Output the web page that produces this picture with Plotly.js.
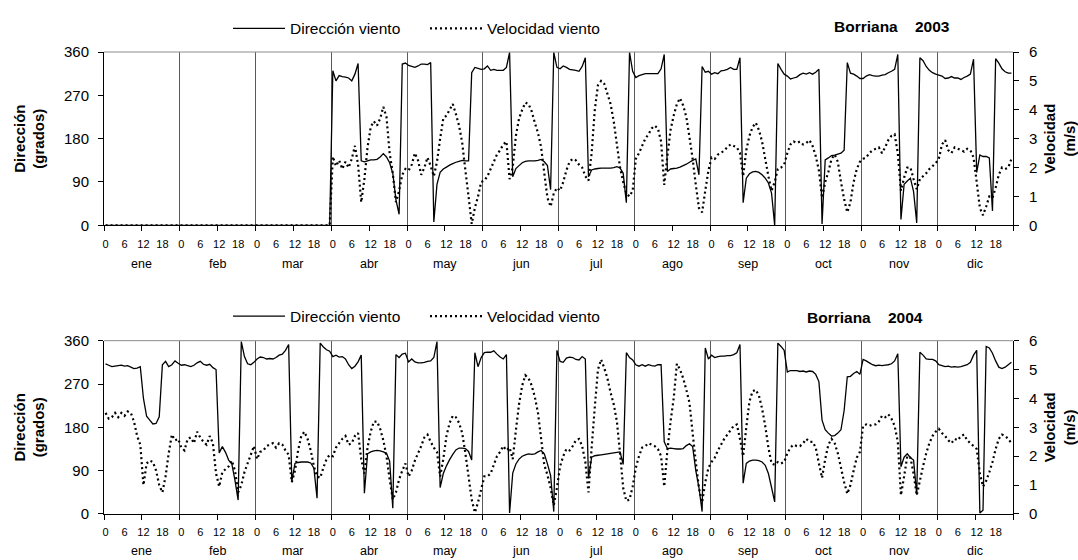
<!DOCTYPE html>
<html>
<head>
<meta charset="utf-8">
<script src="https://cdn.plot.ly/plotly-3.0.1.min.js"></script>
<style>html,body{margin:0;padding:0;background:#fff;}#chart{width:1078px;height:560px;}</style>
</head>
<body>
<div id="chart"></div>
<script>
// ---------- categories / labels ----------
const months = ['ene','feb','mar','abr','may','jun','jul','ago','sep','oct','nov','dic'];
const hourLabels = ['0','6','12','18'];
const seriesNames = ['Dirección viento','Velocidad viento'];
const titles = ['Borriana\u00a0\u00a0\u00a0\u00a02003','Borriana\u00a0\u00a0\u00a0\u00a02004'];

// ---------- 2003: direction (degrees), 24 hourly values per month ----------
const dir2003 = [
 [0,0,0,0,0,0,0,0,0,0,0,0,0,0,0,0,0,0,0,0,0,0,0,0],
 [0,0,0,0,0,0,0,0,0,0,0,0,0,0,0,0,0,0,0,0,0,0,0,0],
 [0,0,0,0,0,0,0,0,0,0,0,0,0,0,0,0,0,0,0,0,0,0,0,0],
 [321,300,311,309,308,306,300,314,336,134,132,134,136,136,137,142,149,142,130,108,53,23,335,337],
 [332,330,328,331,335,335,334,338,7,85,110,117,121,125,128,131,133,135,134,134,317,328,326,324],
 [325,331,322,324,322,322,322,328,359,101,118,124,130,133,134,134,134,135,137,132,124,74,359,328],
 [325,331,328,324,323,322,320,330,348,101,115,117,118,119,119,119,119,120,122,119,108,47,359,320],
 [307,311,313,315,315,315,315,315,325,355,112,117,118,119,121,124,127,131,135,138,105,330,318,320],
 [314,317,315,321,322,324,328,324,324,348,47,98,107,111,112,110,105,98,88,67,0,336,324,314],
 [310,304,306,308,313,316,314,317,314,318,324,3,136,140,145,146,148,150,156,338,316,314,310,305],
 [305,310,313,311,310,310,312,313,317,320,324,355,12,85,92,98,70,5,348,342,330,322,317,314],
 [312,310,305,306,309,306,306,303,307,310,314,345,110,146,143,143,140,30,346,337,325,319,316,316]
];
// ---------- 2003: speed (m/s) ----------
const vel2003 = [
 [0,0,0,0,0,0,0,0,0,0,0,0,0,0,0,0,0,0,0,0,0,0,0,0],
 [0,0,0,0,0,0,0,0,0,0,0,0,0,0,0,0,0,0,0,0,0,0,0,0],
 [0,0,0,0,0,0,0,0,0,0,0,0,0,0,0,0,0,0,0,0,0,0,0,0],
 [2.38,2.05,2.25,1.95,2.2,2.0,2.3,2.75,2.1,0.8,1.6,2.7,3.4,3.6,3.45,3.7,4.1,3.75,2.5,1.8,0.8,1.2,1.75,1.95],
 [1.9,2.1,2.5,2.25,1.75,2.0,2.35,2.05,1.7,2.2,3.0,3.7,3.8,4.0,4.2,3.85,3.45,2.85,1.9,1.0,0.05,0.6,1.0,1.5],
 [1.55,1.7,1.95,2.2,2.45,2.6,2.8,2.9,1.6,2.0,3.1,3.7,4.0,4.25,4.2,3.95,3.55,3.2,2.7,1.8,0.95,0.65,1.1,1.3],
 [1.2,1.5,1.9,2.2,2.3,2.25,2.1,2.0,1.7,1.55,2.5,4.0,4.85,5.0,4.9,4.55,4.2,3.6,2.8,2.0,1.5,1.1,1.0,1.2],
 [2.3,2.5,2.75,3.0,3.15,3.35,3.45,3.35,2.9,1.4,2.4,3.3,3.8,4.2,4.4,4.15,3.75,3.05,2.3,1.4,0.6,0.45,1.2,1.9],
 [2.35,2.3,2.45,2.5,2.6,2.7,2.8,2.75,2.7,2.5,1.7,2.6,3.1,3.4,3.55,3.3,2.9,2.3,1.7,1.2,1.5,1.95,2.0,2.1],
 [2.5,2.8,2.9,2.85,2.9,2.8,2.85,2.95,2.75,2.4,1.9,0.95,1.5,1.85,2.3,2.45,2.2,1.5,0.9,0.45,0.8,1.5,1.95,2.2],
 [2.3,2.35,2.5,2.6,2.65,2.7,2.5,2.7,2.95,3.1,3.15,2.5,1.2,1.65,2.0,2.0,1.6,1.25,1.6,1.7,1.8,1.95,2.05,2.15],
 [2.3,2.8,2.95,2.6,2.5,2.7,2.65,2.6,2.55,2.65,2.6,2.35,1.5,0.6,0.35,0.65,1.0,0.95,1.3,1.75,2.0,1.95,2.0,2.3]
];
// ---------- 2004: direction (degrees) ----------
const dir2004 = [
 [312,309,306,307,308,309,307,308,305,302,303,306,240,203,195,187,188,202,310,317,306,310,318,313],
 [309,310,308,306,309,314,317,311,309,311,304,300,127,140,128,112,104,70,29,358,327,312,310,315],
 [322,326,325,322,323,322,325,330,332,340,352,68,105,107,108,108,108,106,95,33,355,347,341,338],
 [327,330,326,327,322,310,302,307,316,330,43,125,129,131,132,131,129,126,110,12,331,325,332,334],
 [316,322,316,314,314,315,317,318,325,358,55,84,100,113,124,133,137,137,136,130,112,335,306,325],
 [335,336,336,339,332,326,322,331,2,85,104,114,120,123,125,124,125,129,132,125,104,80,5,340],
 [317,315,324,326,325,321,320,327,322,74,118,121,122,123,124,125,126,127,128,129,103,335,325,320],
 [310,307,310,307,310,308,307,310,310,150,136,137,136,135,135,136,142,146,140,90,55,5,345,322],
 [330,325,327,328,328,329,329,331,335,352,64,105,110,112,112,111,108,101,84,55,25,355,348,340],
 [295,298,298,298,296,297,295,297,296,290,275,195,175,168,162,163,168,175,215,285,286,292,296,290],
 [321,318,314,310,308,309,308,309,310,312,318,333,98,118,125,117,112,40,336,330,322,321,321,318],
 [310,308,306,307,305,306,305,306,308,310,315,330,340,2,8,348,345,334,318,305,302,305,310,315]
];
// ---------- 2004: speed (m/s) ----------
const vel2004 = [
 [3.5,3.3,3.35,3.5,3.35,3.5,3.4,3.55,3.5,3.2,2.7,2.4,1.0,1.75,1.85,1.8,1.5,1.0,0.75,1.3,2.1,2.75,2.55,2.6],
 [2.3,2.2,2.6,2.65,2.45,2.85,2.65,2.5,2.4,2.7,2.45,1.4,0.95,1.45,1.55,1.65,1.85,1.5,0.75,1.0,1.45,1.75,2.05,2.35],
 [1.9,2.15,2.2,2.35,2.4,2.45,2.3,2.45,2.4,2.2,2.05,1.1,1.5,2.2,2.7,2.85,2.6,2.2,1.65,1.3,1.25,1.6,1.9,2.05],
 [2.0,2.3,2.45,2.6,2.7,2.4,2.45,2.7,2.8,1.9,1.4,2.3,2.85,3.2,3.2,2.95,2.55,2.0,1.2,0.5,0.75,1.2,1.5,1.75],
 [1.3,1.5,1.85,2.1,2.35,2.65,2.75,2.5,2.3,2.15,1.3,1.9,2.7,3.15,3.4,3.35,3.15,2.8,2.1,1.3,0.5,0.05,0.4,0.85],
 [1.3,1.3,1.4,1.7,2.0,2.15,2.35,2.2,2.3,1.9,2.9,3.8,4.45,4.8,4.7,4.45,4.05,3.5,2.6,1.7,1.35,0.9,0.3,0.9],
 [1.65,2.0,2.25,2.2,2.35,2.55,2.6,2.35,1.8,0.75,2.3,3.7,5.0,5.35,5.05,4.7,4.2,3.8,3.2,2.1,0.9,0.45,0.5,0.95],
 [1.6,2.0,2.3,2.35,2.45,2.4,2.35,2.25,2.0,0.95,2.2,3.2,4.0,5.2,5.0,4.7,4.3,3.85,2.8,1.8,0.9,0.4,1.1,1.6],
 [1.8,1.95,2.2,2.4,2.6,2.75,2.9,3.05,3.1,2.6,2.0,3.0,3.9,4.25,4.3,4.1,3.65,3.05,2.3,1.75,1.7,1.8,1.75,1.8],
 [2.1,2.3,2.4,2.35,2.35,2.45,2.6,2.5,2.5,2.3,1.75,1.25,1.9,2.4,2.6,2.45,2.1,1.6,1.1,0.7,1.0,1.5,1.95,2.15],
 [3.05,3.1,3.05,3.1,3.1,3.2,3.4,3.35,3.45,3.3,3.05,2.5,0.65,1.3,2.0,1.95,1.4,0.65,1.15,1.65,2.1,2.45,2.7,2.85],
 [2.95,2.8,2.7,2.55,2.45,2.6,2.55,2.7,2.75,2.55,2.45,2.35,2.25,1.4,0.95,1.15,1.45,1.8,2.25,2.6,2.75,2.7,2.6,2.45]
];

// ---------- build category positions (24 hourly categories per month) ----------
const H = 24;
const xPos = [];
months.forEach((m, mi) => { for (let h = 0; h < H; h++) xPos.push(mi * H + h + 0.5); });
const flat = a => a.reduce((acc, r) => acc.concat(r), []);
const hourTickVals = [], hourTickText = [];
months.forEach((m, mi) => hourLabels.forEach(l => { hourTickVals.push(mi * H + Number(l) + 0.5); hourTickText.push(l); }));

const FONT = 'Liberation Sans, Arial, sans-serif';
const dirLine = {color: '#000', width: 1.3, simplify: false};
const velLine = {color: '#000', width: 2.2, dash: '2px,3px', simplify: false};

const traces = [
 {x: xPos, y: flat(dir2003), xaxis: 'x', yaxis: 'y', name: seriesNames[0], type: 'scatter', mode: 'lines', line: dirLine, legend: 'legend'},
 {x: xPos, y: flat(vel2003), xaxis: 'x', yaxis: 'y2', name: seriesNames[1], type: 'scatter', mode: 'lines', line: velLine, legend: 'legend'},
 {x: xPos, y: flat(dir2004), xaxis: 'x2', yaxis: 'y3', name: seriesNames[0], type: 'scatter', mode: 'lines', line: dirLine, legend: 'legend2'},
 {x: xPos, y: flat(vel2004), xaxis: 'x2', yaxis: 'y4', name: seriesNames[1], type: 'scatter', mode: 'lines', line: velLine, legend: 'legend2'}
];

const RANGE = [0, months.length * H];
function monthAxis(anchor) {
  return {anchor: anchor, domain: [0, 1], range: RANGE, tickmode: 'linear', tick0: 0, dtick: H,
    showticklabels: false, ticks: 'outside', ticklen: 5, tickcolor: '#000', tickwidth: 1,
    showgrid: true, gridcolor: '#5a5a5a', gridwidth: 1, showline: true, linecolor: '#000', linewidth: 1,
    zeroline: false, fixedrange: true,
    minor: {tickmode: 'linear', tick0: 0, dtick: H / 2, ticks: 'outside', ticklen: 5, tickcolor: '#000', showgrid: false}};
}
function hourAxis(over, anchor) {
  return {overlaying: over, anchor: anchor, range: RANGE, tickmode: 'array', tickvals: hourTickVals, ticktext: hourTickText,
    ticks: 'outside', ticklen: 8, tickcolor: 'rgba(0,0,0,0)', showgrid: false, showline: false, zeroline: false,
    tickfont: {size: 11, color: '#000', family: FONT}, fixedrange: true};
}
function dirAxis(anchor, domain) {
  return {anchor: anchor, domain: domain, range: [0, 360], tickmode: 'array', tickvals: [0, 90, 180, 270, 360],
    ticks: 'outside', ticklen: 5, tickcolor: '#000', showline: true, linecolor: '#000', linewidth: 1,
    showgrid: false, zeroline: false, tickfont: {size: 15, color: '#000', family: FONT}, ticklabelstandoff: 6,
    title: {text: '<b>Dirección</b><br><b>(grados)</b>', font: {size: 15, color: '#000', family: FONT}, standoff: 15},
    fixedrange: true};
}
function velAxis(over, anchor) {
  return {overlaying: over, anchor: anchor, side: 'right', range: [0, 6], tickmode: 'linear', tick0: 0, dtick: 1,
    ticks: 'outside', ticklen: 5, tickcolor: '#000', showline: true, linecolor: '#000', linewidth: 1,
    showgrid: false, zeroline: false, tickfont: {size: 15, color: '#000', family: FONT}, ticklabelstandoff: 7,
    title: {text: '<b>Velocidad</b><br><b>(m/s)</b>', font: {size: 15, color: '#000', family: FONT}, standoff: 8},
    fixedrange: true};
}

const annotations = [];
months.forEach((m, mi) => {
  annotations.push({text: m, x: mi * H + H / 2, xref: 'x', y: -0.225, yref: 'y domain', showarrow: false,
    xanchor: 'center', yanchor: 'middle', font: {size: 12.5, color: '#000', family: FONT}});
  annotations.push({text: m, x: mi * H + H / 2, xref: 'x2', y: -0.215, yref: 'y3 domain', showarrow: false,
    xanchor: 'center', yanchor: 'middle', font: {size: 12.5, color: '#000', family: FONT}});
});
annotations.push({text: '<b>' + titles[0] + '</b>', x: 892, y: 22, xref: 'paper', yref: 'paper', showarrow: false,
  font: {size: 15.5, color: '#000', family: FONT}});
annotations.push({text: '<b>' + titles[1] + '</b>', x: 865, y: 316, xref: 'paper', yref: 'paper', showarrow: false,
  font: {size: 15.5, color: '#000', family: FONT}});

// convert pixel-placed titles to paper coords
const W = 1078, HT = 560, ML = 104, MR = 65, MT = 47.5, MB = 45.5;
const PW = W - ML - MR, PH = HT - MT - MB;
annotations.slice(-2).forEach(a => { a.x = (a.x - ML) / PW; a.y = (HT - MB - a.y) / PH; a.xanchor = 'center'; a.yanchor = 'middle'; });

const topDomain = [(HT - MB - 222.7) / PH, 1];
const botDomain = [0, (HT - MB - 339.3) / PH];

const legendBase = {orientation: 'h', xanchor: 'left', yanchor: 'middle', bgcolor: 'rgba(0,0,0,0)', borderwidth: 0,
  font: {size: 15.5, color: '#000', family: FONT}, itemwidth: 52, entrywidth: 130, entrywidthmode: 'pixels',
  traceorder: 'normal', itemclick: false, itemdoubleclick: false};

const layout = {
  width: W, height: HT, margin: {l: ML, r: MR, t: MT, b: MB, pad: 0},
  paper_bgcolor: '#fff', plot_bgcolor: '#fff', font: {family: FONT, color: '#000'},
  showlegend: true,
  legend: Object.assign({}, legendBase, {x: (228 - ML) / PW, y: (HT - MB - 24) / PH}),
  legend2: Object.assign({}, legendBase, {x: (228 - ML) / PW, y: (HT - MB - 315) / PH}),
  xaxis: monthAxis('y'),
  xaxis2: monthAxis('y3'),
  xaxis3: hourAxis('x', 'y'),
  xaxis4: hourAxis('x2', 'y3'),
  yaxis: dirAxis('x', topDomain),
  yaxis2: velAxis('y', 'x'),
  yaxis3: dirAxis('x2', botDomain),
  yaxis4: velAxis('y3', 'x2'),
  annotations: annotations,
  shapes: [
    {type: 'line', xref: 'x domain', yref: 'y domain', x0: 0, x1: 1, y0: 1, y1: 1, line: {color: '#8c8c8c', width: 1}},
    {type: 'line', xref: 'x2 domain', yref: 'y3 domain', x0: 0, x1: 1, y0: 1, y1: 1, line: {color: '#8c8c8c', width: 1}}
  ]
};
// the hour-label axes need dummy traces so they render
traces.push({x: [RANGE[0]], y: [null], xaxis: 'x3', yaxis: 'y', showlegend: false, hoverinfo: 'skip', type: 'scatter', mode: 'lines'});
traces.push({x: [RANGE[0]], y: [null], xaxis: 'x4', yaxis: 'y3', showlegend: false, hoverinfo: 'skip', type: 'scatter', mode: 'lines'});

Plotly.newPlot('chart', traces, layout, {displayModeBar: false, staticPlot: true});
</script>
</body>
</html>
